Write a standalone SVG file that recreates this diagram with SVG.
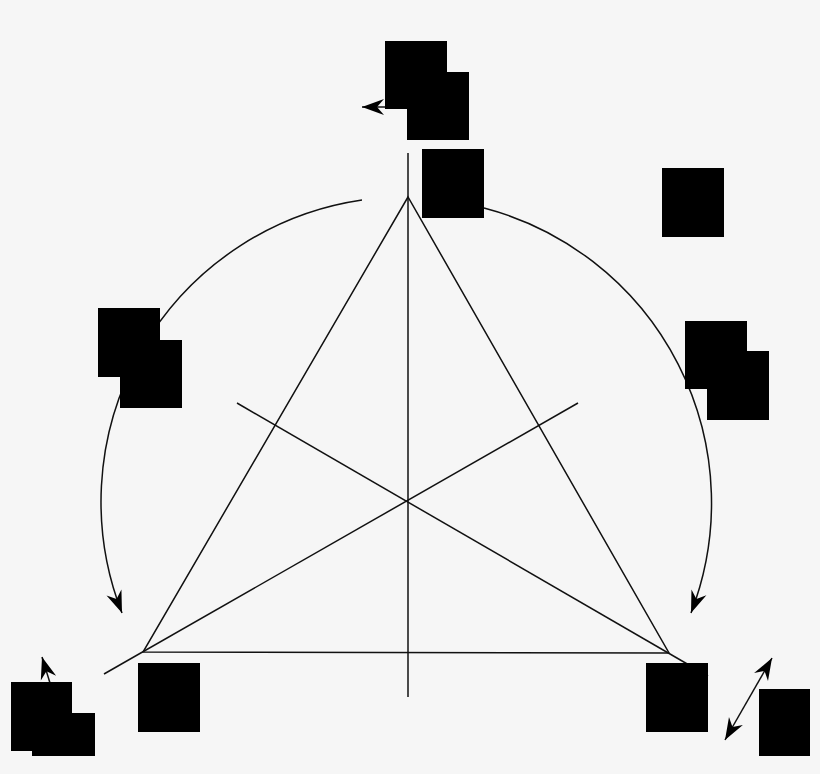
<svg xmlns="http://www.w3.org/2000/svg" width="820" height="774" viewBox="0 0 820 774">
<style>
.ln{stroke:#111;stroke-width:1.5;fill:none}
.box{fill:#000;stroke:none}
</style>
<defs>
<marker id="ah" viewBox="-24 -10 26 20" markerWidth="26" markerHeight="20" refX="0" refY="0" orient="auto" markerUnits="userSpaceOnUse">
<path d="M0,0 L-22,-8 L-15,0 L-22,8 Z" fill="#000"/>
</marker>
<marker id="ahs" viewBox="-24 -10 26 20" markerWidth="26" markerHeight="20" refX="0" refY="0" orient="auto-start-reverse" markerUnits="userSpaceOnUse">
<path d="M0,0 L-22,-8 L-15,0 L-22,8 Z" fill="#000"/>
</marker>
</defs>
<rect width="820" height="774" fill="#f6f6f6"/>
<g id="connectors">
<line class="ln" x1="408" y1="153" x2="408" y2="697"/>
<polygon class="ln" points="408,197 143,652 669,653"/>
<line class="ln" x1="237" y1="403" x2="708" y2="676"/>
<line class="ln" x1="578" y1="403" x2="104" y2="674"/>
<path class="ln" d="M362,200 A305,305 0 0 0 122,613" marker-end="url(#ah)"/>
<path class="ln" d="M484,208 A305,305 0 0 1 691,613" marker-end="url(#ah)"/>
<line class="ln" x1="386" y1="107" x2="362" y2="107" marker-end="url(#ah)"/>
<line class="ln" x1="50" y1="683" x2="42" y2="657" marker-end="url(#ah)"/>
<line class="ln" x1="725" y1="740" x2="772" y2="658" marker-start="url(#ahs)" marker-end="url(#ah)"/>
</g>
<g id="n1"><rect class="box" x="385" y="41" width="62" height="68"/></g>
<g id="n2"><rect class="box" x="407" y="72" width="62" height="68"/></g>
<g id="n3"><rect class="box" x="422" y="149" width="62" height="69"/></g>
<g id="n4"><rect class="box" x="662" y="168" width="62" height="69"/></g>
<g id="n5"><rect class="box" x="98" y="308" width="62" height="69"/></g>
<g id="n6"><rect class="box" x="120" y="340" width="62" height="68"/></g>
<g id="n7"><rect class="box" x="685" y="321" width="62" height="68"/></g>
<g id="n8"><rect class="box" x="707" y="351" width="62" height="69"/></g>
<g id="n9"><rect class="box" x="11" y="682" width="61" height="69"/></g>
<g id="n10"><rect class="box" x="32" y="713" width="63" height="43"/></g>
<g id="n11"><rect class="box" x="138" y="663" width="62" height="69"/></g>
<g id="n12"><rect class="box" x="646" y="663" width="62" height="69"/></g>
<g id="n13"><rect class="box" x="759" y="689" width="51" height="67"/></g>
</svg>
